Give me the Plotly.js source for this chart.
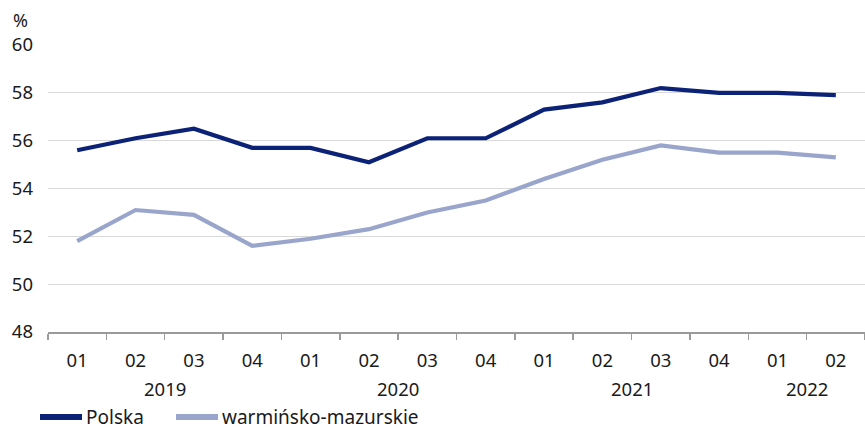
<!DOCTYPE html>
<html><head><meta charset="utf-8">
<script src="https://cdn.plot.ly/plotly-3.0.1.min.js"></script>
<style>html,body{margin:0;padding:0;background:#fff}#c{width:865px;height:430px}</style>
</head><body><div id="c"></div>
<script>
const quarters = ["01","02","03","04","01","02","03","04","01","02","03","04","01","02"];
const years = ["2019","2020","2021","2022"];
const yearStart = [0,4,8,12];
const yearEnd = [3,7,11,13];
const polska = [55.6,56.1,56.5,55.7,55.7,55.1,56.1,56.1,57.3,57.6,58.2,58.0,58.0,57.9];
const warm = [51.8,53.1,52.9,51.6,51.9,52.3,53.0,53.5,54.4,55.2,55.8,55.5,55.5,55.3];
const names = ["Polska","warmińsko-mazurskie"];
const colors = ["#0b2277","#9aa5cc"];

const xs = quarters.map((_,i)=>i);
const bounds = [];
for(let i=0;i<=quarters.length;i++) bounds.push(i-0.5);
const font = "Noto Sans, sans-serif";
const txt = '#1a1a1a';
const fs = 18.5;

const traces = [polska, warm].map((v,k)=>({
  x: xs, y: v, type:'scatter', mode:'lines', name:names[k],
  line:{color:colors[k], width:4.2}, showlegend:false, hoverinfo:'skip'
}));

const ann = years.map((y,i)=>({
  x:(yearStart[i]+yearEnd[i])/2, y:-0.197, xref:'x', yref:'paper', text:y, showarrow:false,
  font:{family:font,size:fs,color:txt}, xanchor:'center', yanchor:'middle'
}));
ann.push({x:-0.034, y:1.088, xref:'paper', yref:'paper', text:'%', showarrow:false,
  font:{family:font,size:fs-0.5,color:txt}, xanchor:'center', yanchor:'middle'});

// custom legend
const legX = [40,176];
const shapes = [];
const W = 817, L = 48, H = 287;
const legY = -(417-332)/H;
names.forEach((n,k)=>{
  shapes.push({type:'line', xref:'paper', yref:'paper', x0:(legX[k]-L)/W, x1:(legX[k]+42-L)/W,
    y0:legY, y1:legY, line:{color:colors[k], width:6}});
  ann.push({x:(legX[k]+45-L)/W, y:legY, xref:'paper', yref:'paper', text:n, showarrow:false,
    font:{family:font,size:19,color:txt}, xanchor:'left', yanchor:'middle', borderpad:0});
});

const layout = {
  width:865, height:430,
  margin:{l:48, r:0, t:45, b:98},
  paper_bgcolor:'#fff', plot_bgcolor:'#fff',
  font:{family:font, size:fs, color:txt},
  xaxis:{range:[-0.5,13.5], tickvals:xs, ticktext:quarters, ticks:'', showgrid:false,
    zeroline:false, showline:true, linecolor:'#9a9a9a', linewidth:1.5, ticklabelstandoff:11,
    tickfont:{family:font,size:fs,color:txt},
    minor:{tickvals:bounds, ticks:'outside', ticklen:6, tickcolor:'#9a9a9a', tickwidth:1.5, showgrid:false}},
  yaxis:{range:[48,60], dtick:2, tick0:48, showgrid:true, gridcolor:'#d9d9d9', gridwidth:1,
    zeroline:false, showline:false, ticks:'', ticklabelstandoff:14,
    tickfont:{family:font,size:fs,color:txt}},
  annotations:ann, shapes:shapes, showlegend:false
};
Plotly.newPlot('c', traces, layout, {displayModeBar:false, staticPlot:true});
</script></body></html>
